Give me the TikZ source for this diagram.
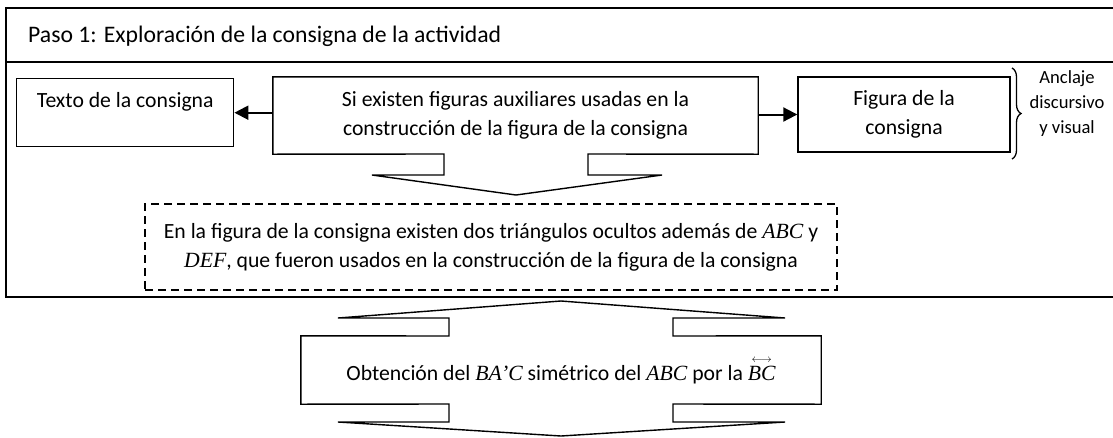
\documentclass[tikz,border=0pt]{standalone}
\usepackage{amsmath}
\usepackage{fontspec}
\setmainfont{Carlito}
\newfontfamily\mathlike{Liberation Serif}
\newcommand{\mvar}[1]{{\mathlike\itshape #1}}
\usetikzlibrary{arrows.meta,decorations.pathreplacing}
\begin{document}
\begin{tikzpicture}[x=1pt,y=-1pt,
  txt/.style={font=\fontsize{21.7}{29}\selectfont, inner sep=0pt},
  box/.style={txt, draw, line width=1.4pt},
  arr/.style={line width=2pt, -{Triangle[length=14pt,width=14pt]}},
  outline/.style={draw, line width=1.4pt, line join=miter},
  dashbox/.style={txt, draw, line width=1.3pt, dash pattern=on 8pt off 5pt},
  frame/.style={line width=1.7pt},
  side/.style={font=\fontsize{18.6}{25}\selectfont, inner sep=0pt, align=center}]
\useasboundingbox (0,0) rectangle (1113,437);
% outer frame (right side cut off)
\draw[frame] (1113,8) -- (6,8) -- (6,297) -- (1113,297);
\draw[frame] (6,62) -- (1113,62);
\node[txt, font=\fontsize{23.7}{29}\selectfont, anchor=base west] (title) at (28,42) {Paso 1: Exploración de la consigna de la actividad};
% left box
\node[box, anchor=north west, minimum width=217pt, text height=29pt, text depth=39pt, align=center] (texto) at (16,78) {Texto de la consigna};
% central callout
\node[txt, minimum width=485pt, minimum height=77pt, align=center] (box1) at (515.5,115.5) {Si existen figuras auxiliares usadas en la\\construcción de la figura de la consigna};
\draw[outline] (box1.north west) -- (box1.north east) -- (box1.south east) -- (588,154) -- (588,175) -- (662,175) -- (516,195) -- (372,175) -- (444,175) -- (444,154) -- (box1.south west) -- cycle;
% right box
\node[box, minimum width=212pt, minimum height=75pt, align=center] (figura) at (904,114.5) {Figura de la\\consigna};
\draw[arr] (box1.west |- texto.east) -- (texto.east);
\draw[arr] (box1.east |- figura.west) -- (figura.west);
% brace
\draw[line width=1.3pt, decorate, decoration={brace, amplitude=9pt}] (1012,68) -- (1012,159);
\node[side] (anclaje) at (1067,104) {Anclaje\\discursivo\\y visual};
% dashed box
\node[dashbox, minimum width=692pt, minimum height=86pt, align=center] (dashed) at (491,247) {En la figura de la consigna existen dos triángulos ocultos además de \mvar{ABC} y\\\mvar{DEF}, que fueron usados en la construcción de la figura de la consigna};
% lower double callout
\node[txt, minimum width=520pt, minimum height=68pt] (obt) at (561,370) {Obtención del \mvar{BA’C} simétrico del \mvar{ABC} por la $\overset{\scriptscriptstyle\longleftrightarrow}{\text{\mvar{BC}}}$};
\draw[outline] (obt.north west) -- (449,336) -- (449,318) -- (338,318) -- (561,301) -- (785,318) -- (673,318) -- (673,336) -- (obt.north east) -- (obt.south east) -- (673,404) -- (673,422) -- (785,422) -- (561,436) -- (338,422) -- (449,422) -- (449,404) -- (obt.south west) -- cycle;
\end{tikzpicture}
\end{document}
